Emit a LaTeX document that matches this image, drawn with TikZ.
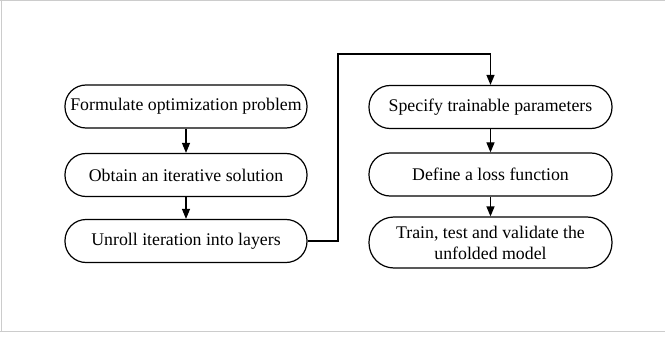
\documentclass[tikz,border=0pt]{standalone}
\usepackage{fontspec}
\setmainfont{Liberation Serif}
\usetikzlibrary{arrows.meta}
\begin{document}
\begin{tikzpicture}[x=1pt,y=-1pt,
  stepbox/.style={draw=black,line width=1.2pt,rectangle,rounded corners=21pt,
    minimum width=242pt,minimum height=43pt,inner sep=0pt,align=center,
    font=\fontsize{17.8}{21}\selectfont},
  arr/.style={draw=black,line width=1.2pt,-{Triangle[width=8pt,length=10pt]}},
  frame/.style={draw=black!20,line width=1.2pt}]
\useasboundingbox (0,0) rectangle (665,337);
\draw[frame] (0,0.6) -- (665,0.6);
\draw[frame] (1.6,0) -- (1.6,331.5);
\draw[frame] (0,331.5) -- (665,331.5);
\node[stepbox] (l1) at (186,106.5) {Formulate optimization problem};
\node[stepbox] (l2) at (186,175) {Obtain an iterative solution};
\node[stepbox] (l3) at (186,241) {Unroll iteration into layers};
\node[stepbox,minimum width=243pt] (r1) at (490.5,107) {Specify trainable parameters};
\node[stepbox,minimum width=243pt] (r2) at (490.5,174.5) {Define a loss function};
\node[stepbox,minimum width=243pt,minimum height=51pt,rounded corners=25pt] (r3) at (490.5,242.5) {Train, test and validate the\\unfolded model};
\coordinate (bend) at (338,54);
\draw[arr] (l1) -- (l2);
\draw[arr] (l2) -- (l3);
\draw[arr] (l3.east) -| (bend) -| (r1.north);
\draw[arr] (r1) -- (r2);
\draw[arr] (r2) -- (r3);
\end{tikzpicture}
\end{document}
